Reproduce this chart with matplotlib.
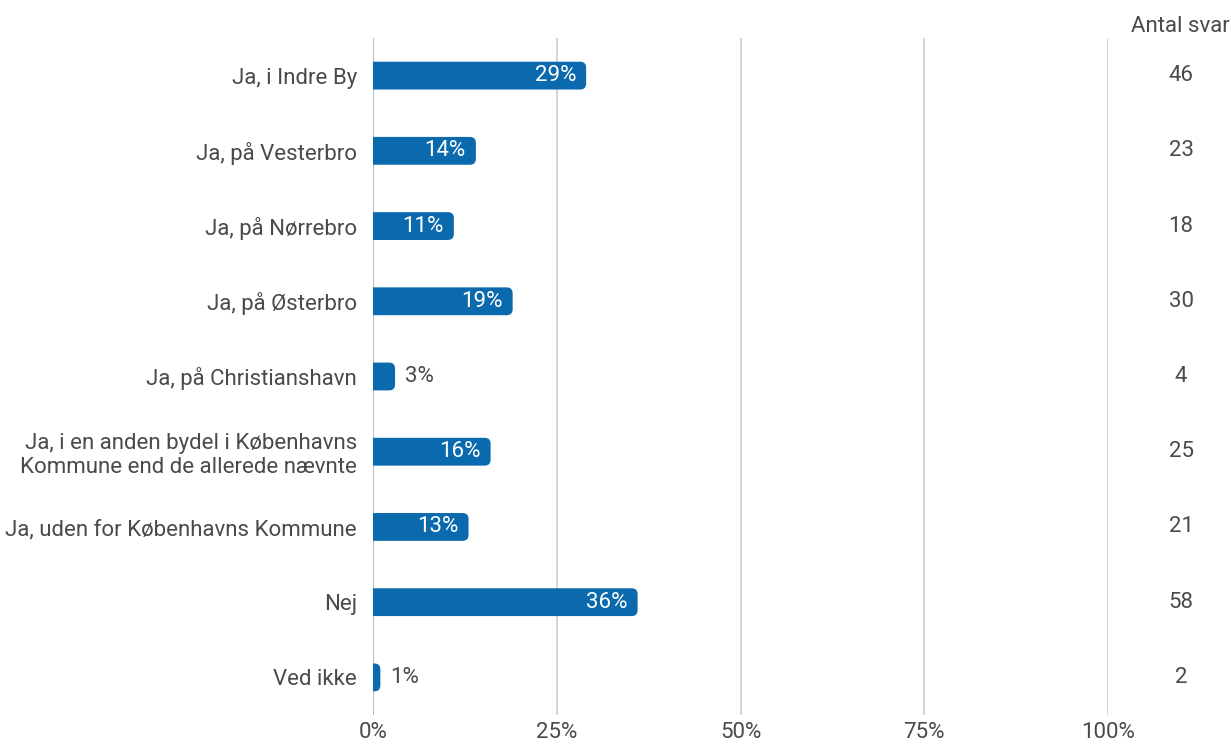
import matplotlib
matplotlib.use("Agg")
import matplotlib.pyplot as plt
from matplotlib.patches import PathPatch
from matplotlib.path import Path
from matplotlib.transforms import blended_transform_factory

plt.rcParams['font.family'] = ['Roboto', 'DejaVu Sans']

categories = [
    "Ja, i Indre By",
    "Ja, på Vesterbro",
    "Ja, på Nørrebro",
    "Ja, på Østerbro",
    "Ja, på Christianshavn",
    "Ja, i en anden bydel i Københavns\nKommune end de allerede nævnte",
    "Ja, uden for Københavns Kommune",
    "Nej",
    "Ved ikke",
]
pct = [29, 14, 11, 19, 3, 16, 13, 36, 1]
counts = [46, 23, 18, 30, 4, 25, 21, 58, 2]
xticks = [0, 25, 50, 75, 100]

bar_color = "#0b6aad"
text_color = "#4a4a4a"
grid_color = "#c9c9c9"
fs = 16


def right_rounded_bar(x_end, y0, h, rx, ry):
    """Path of a bar starting at 0 with the right end rounded."""
    y1 = y0 + h
    verts = [(0, y0), (x_end - rx, y0), (x_end, y0), (x_end, y0 + ry),
             (x_end, y1 - ry), (x_end, y1), (x_end - rx, y1), (0, y1), (0, y0)]
    codes = [Path.MOVETO, Path.LINETO, Path.CURVE3, Path.CURVE3,
             Path.LINETO, Path.CURVE3, Path.CURVE3, Path.LINETO, Path.CLOSEPOLY]
    return Path(verts, codes)


fig = plt.figure(figsize=(12.31, 7.44), dpi=100)
ax = fig.add_axes([373 / 1231, 29 / 744, 735 / 1231, 677 / 744])
ax.set_xlim(0, 100)
ax.set_ylim(len(categories) - 0.5, -0.5)

# data units per pixel, so the corners come out round
px_x = 100 / 735
px_y = len(categories) / 677
radius = 6

bar_h = 0.37
for i, v in enumerate(pct):
    rx = min(radius * px_x, v * 0.8)
    ry = radius * px_y
    ax.add_patch(PathPatch(right_rounded_bar(v, i - bar_h / 2, bar_h, rx, ry),
                           fc=bar_color, ec="none", zorder=3))
    if v >= 5:
        ax.text(v - 10 * px_x, i, "%d%%" % v, ha="right", va="center",
                color="white", fontsize=fs, zorder=4)
    else:
        ax.text(v + 10 * px_x, i, "%d%%" % v, ha="left", va="center",
                color=text_color, fontsize=fs, zorder=4)

for x in xticks:
    ax.axvline(x, color=grid_color if x else "#a8a8a8", lw=1.1, zorder=1)

ax.set_yticks(range(len(categories)))
ax.set_yticklabels(categories, fontsize=fs, color=text_color, linespacing=1.2)
ax.set_xticks(xticks)
ax.set_xticklabels(["%d%%" % x for x in xticks], fontsize=fs, color=text_color)
ax.tick_params(axis="both", length=0)
ax.tick_params(axis="y", pad=11.5)
ax.tick_params(axis="x", pad=5)
for s in ax.spines.values():
    s.set_visible(False)

# count column on the right
trans = blended_transform_factory(fig.transFigure, ax.transData)
for i, c in enumerate(counts):
    ax.text(1181 / 1231, i, str(c), transform=trans,
            ha="center", va="center", fontsize=fs, color=text_color)
fig.text(1180 / 1231, 1 - 27 / 744, "Antal svar", ha="center", va="center",
         fontsize=fs, color=text_color)

fig.savefig("out.png", dpi=100)
